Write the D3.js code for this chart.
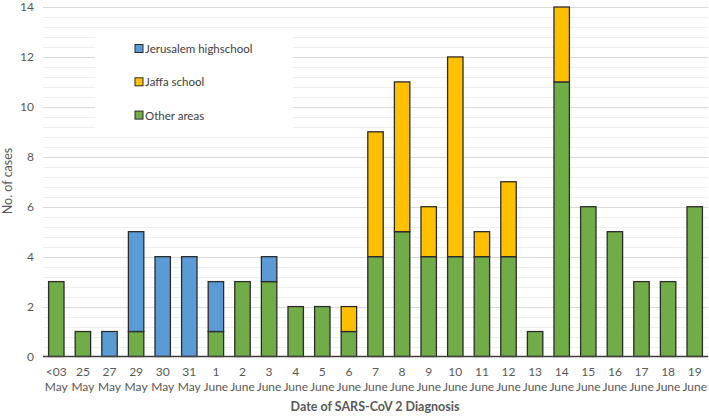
<!DOCTYPE html>
<html><head><meta charset="utf-8">
<script src="https://cdn.jsdelivr.net/npm/d3@7"></script>
<style>body{margin:0;background:#fff}svg{display:block}</style>
</head><body>
<svg id="c" width="709" height="416"></svg>
<script>
const days = ["<03","25","27","29","30","31","1","2","3","4","5","6","7","8","9","10","11","12","13","14","15","16","17","18","19"];
const months = ["May","May","May","May","May","May","June","June","June","June","June","June","June","June","June","June","June","June","June","June","June","June","June","June","June"];
const otherAreas = [3,1,0,1,0,0,1,3,3,2,2,1,4,5,4,4,4,4,1,11,6,5,3,3,6];
const jerusalem  = [0,0,1,4,4,4,2,0,1,0,0,0,0,0,0,0,0,0,0,0,0,0,0,0,0];
const jaffa      = [0,0,0,0,0,0,0,0,0,0,0,1,5,6,2,8,1,3,0,3,0,0,0,0,0];
const yTicks = [0,2,4,6,8,10,12,14];
const seriesNames = ["Jerusalem highschool","Jaffa school","Other areas"];

const colors = {other:"#70AD47", jer:"#5B9BD5", jaffa:"#FFC000"};
const font = "Lato, 'Open Sans', sans-serif";
const svg = d3.select("#c");

const rows = days.map((d,i)=>({key:d+" "+months[i], day:d, month:months[i], other:otherAreas[i], jer:jerusalem[i], jaffa:jaffa[i]}));
const x = d3.scaleBand().domain(rows.map(r=>r.key)).range([43,708]).paddingInner(0.42).paddingOuter(0.21);
const y = d3.scaleLinear().domain([0,14]).range([356.5,7]);

// gridlines
const minor = d3.range(0,14.01,0.4).filter(v=>Math.abs(v/2-Math.round(v/2))>1e-6);
svg.append("g").selectAll("line").data(minor).join("line")
  .attr("x1",43).attr("x2",708).attr("y1",d=>Math.round(y(d))+0.5).attr("y2",d=>Math.round(y(d))+0.5)
  .attr("stroke","#efefef").attr("stroke-width",1);
svg.append("g").selectAll("line").data(yTicks.filter(v=>v>0)).join("line")
  .attr("x1",43).attr("x2",708).attr("y1",d=>Math.round(y(d))+0.5).attr("y2",d=>Math.round(y(d))+0.5)
  .attr("stroke","#d9d9d9").attr("stroke-width",1);

// legend background
svg.append("rect").attr("x",95).attr("y",33).attr("width",198).attr("height",97).attr("fill","#fff");

// bars
const stack = d3.stack().keys(["other","jer","jaffa"])(rows);
svg.append("g").selectAll("g").data(stack).join("g")
  .attr("fill",d=>colors[d.key])
  .selectAll("rect").data(d=>d.filter(p=>p[1]-p[0]>0)).join("rect")
  .attr("x",d=>x(d.data.key)).attr("width",x.bandwidth())
  .attr("y",d=>y(d[1])).attr("height",d=>y(d[0])-y(d[1]))
  .attr("stroke","#2b2b2b").attr("stroke-width",1.3);

// x axis line
svg.append("line").attr("x1",43).attr("x2",708).attr("y1",356.5).attr("y2",356.5).attr("stroke","#404040").attr("stroke-width",1.3);

// y tick labels
const yAxis = d3.axisLeft(y).tickValues(yTicks).tickSize(0).tickPadding(0);
const ya = svg.append("g").attr("transform","translate(34,0)").call(yAxis);
ya.select(".domain").remove();
ya.selectAll("text").attr("fill","#595959").style("font-family",font).style("font-size","12px");

// x tick labels (two lines)
const xl = svg.append("g").selectAll("text").data(rows).join("text")
  .attr("text-anchor","middle").attr("fill","#595959").style("font-family",font).style("font-size","12px");
xl.append("tspan").attr("x",d=>x(d.key)+x.bandwidth()/2).attr("y",376).text(d=>d.day);
xl.append("tspan").attr("x",d=>x(d.key)+x.bandwidth()/2).attr("y",391).text(d=>d.month);

// axis titles
svg.append("text").attr("x",375).attr("y",411).attr("text-anchor","middle").attr("fill","#595959")
  .style("font-family",font).style("font-size","12.5px").style("font-weight","bold").text("Date of SARS-CoV 2 Diagnosis");
svg.append("text").attr("transform","translate(12,181) rotate(-90)").attr("text-anchor","middle").attr("fill","#595959")
  .style("font-family",font).style("font-size","12.5px").text("No. of cases");

// legend
const legKeys = ["jer","jaffa","other"];
const lg = svg.append("g").selectAll("g").data(seriesNames).join("g")
  .attr("transform",(d,i)=>`translate(135,${48.5+i*33.3})`);
lg.append("rect").attr("x",0).attr("y",-4).attr("width",8).attr("height",8)
  .attr("fill",(d,i)=>colors[legKeys[i]]).attr("stroke","#2b2b2b").attr("stroke-width",1);
lg.append("text").attr("x",10).attr("y",4.5).attr("fill","#404040")
  .style("font-family",font).style("font-size","11.5px").text(d=>d);
</script>
</body></html>
